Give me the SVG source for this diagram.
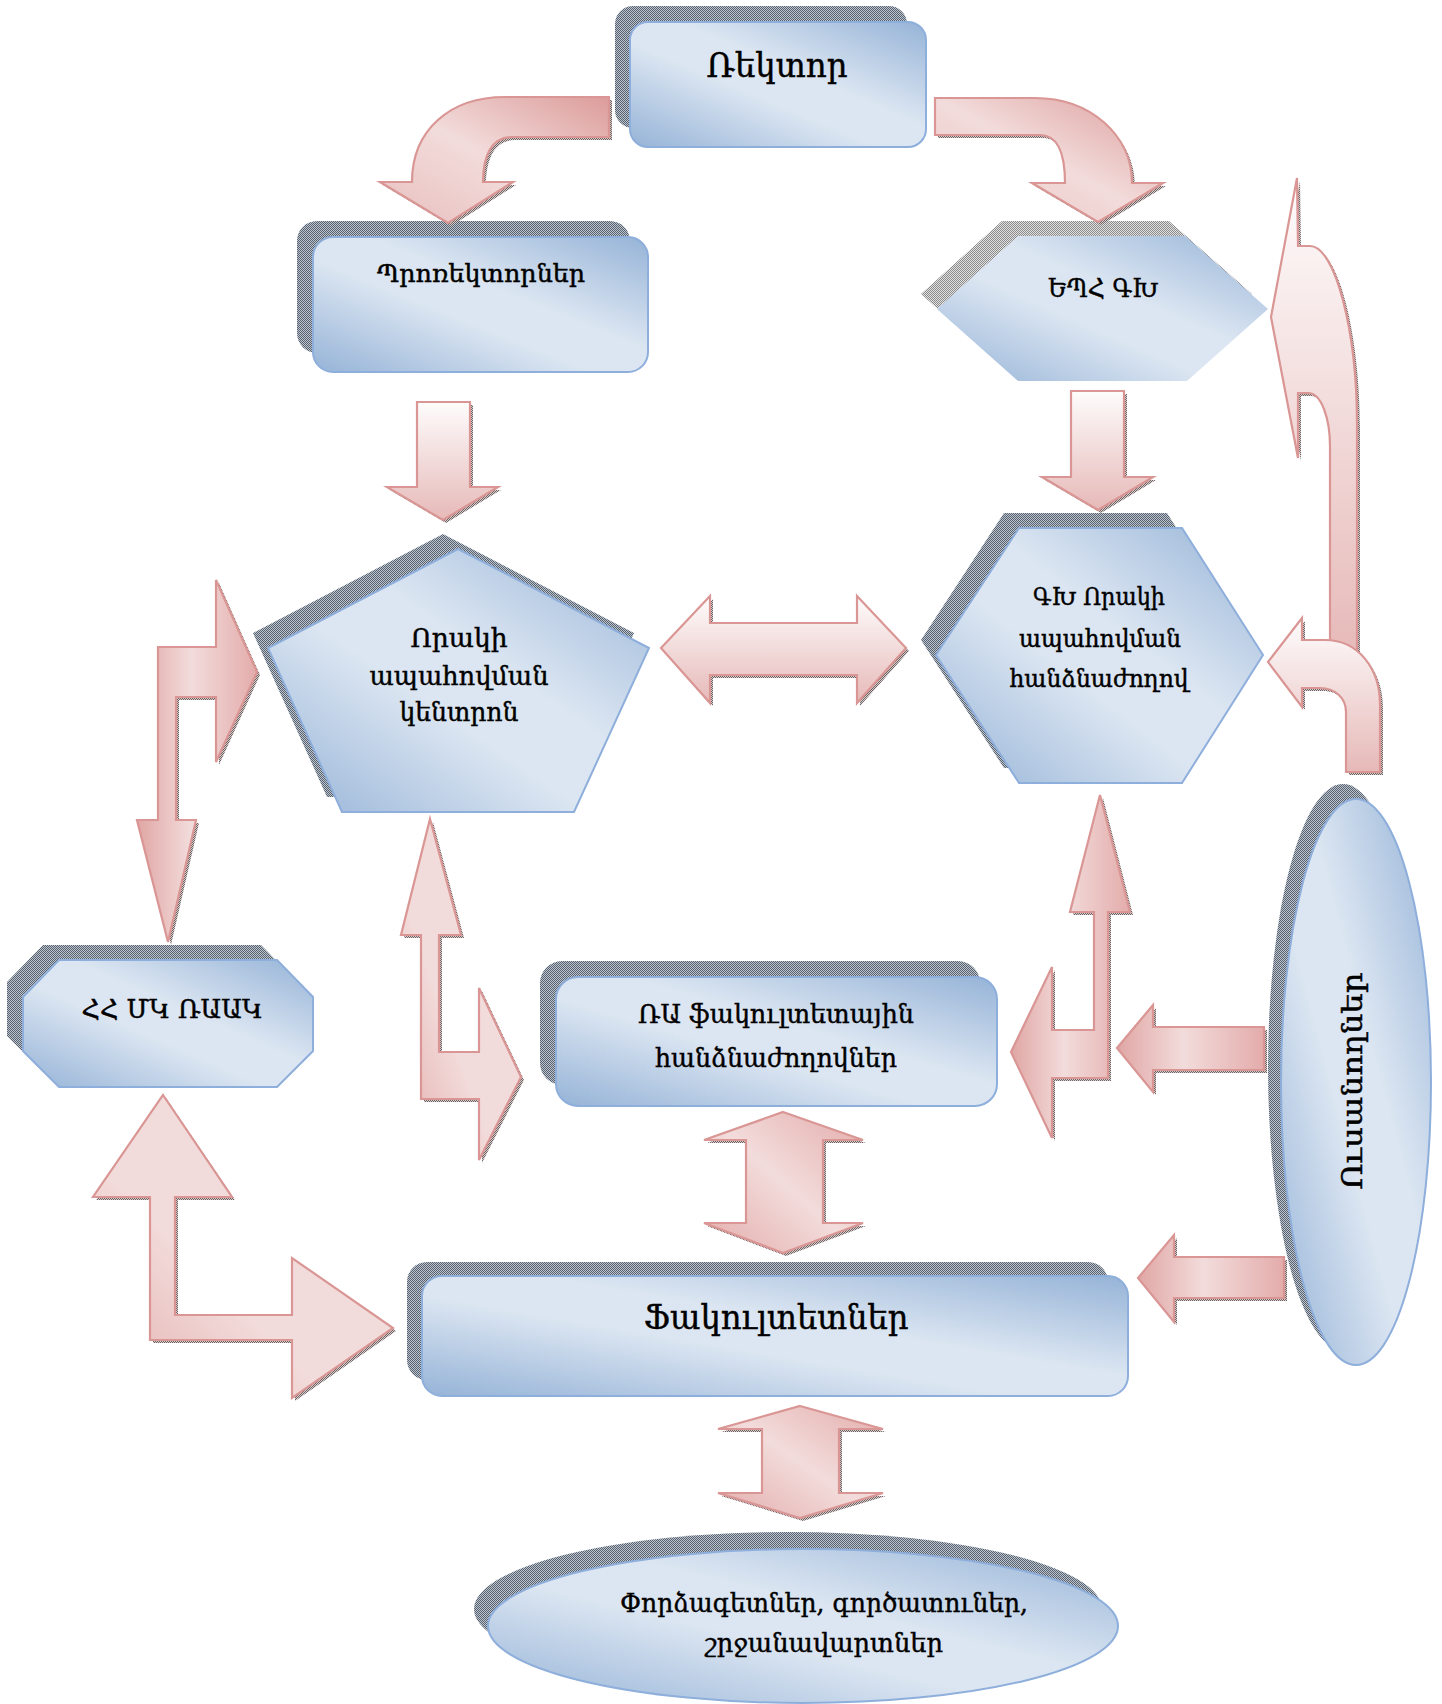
<svg xmlns="http://www.w3.org/2000/svg" xmlns:xlink="http://www.w3.org/1999/xlink" width="1442" height="1704" viewBox="0 0 1442 1704">
<defs>
<style>
.t{font-family:"DejaVu Serif","Liberation Serif",serif;fill:#000;stroke:#000;stroke-width:0.45;text-anchor:middle}
.node{fill:url(#gBlue);stroke:#8eaedb;stroke-width:2}
.shB{fill:url(#dotB)}
.shG{fill:url(#dotG)}
.ash{fill:url(#dotR)}
.arr{stroke:#d99694;stroke-width:2.2;stroke-linejoin:miter}
</style>
<pattern id="dotB" width="2" height="2" patternUnits="userSpaceOnUse"><rect width="2" height="2" fill="#bcc4cf"/><rect width="1" height="1" fill="#58626f"/><rect x="1" y="1" width="1" height="1" fill="#58626f"/></pattern>
<pattern id="dotG" width="2" height="2" patternUnits="userSpaceOnUse"><rect width="2" height="2" fill="#e2e2e2"/><rect width="1" height="1" fill="#8a8a8a"/><rect x="1" y="1" width="1" height="1" fill="#8a8a8a"/></pattern>
<pattern id="dotR" width="2" height="2" patternUnits="userSpaceOnUse"><rect width="2" height="2" fill="#d6cccc"/><rect width="1" height="1" fill="#6e6262"/><rect x="1" y="1" width="1" height="1" fill="#6e6262"/></pattern>
<linearGradient id="gBlue" x1="0" y1="1" x2="1" y2="0"><stop offset="0" stop-color="#95b3d7"/><stop offset="0.42" stop-color="#dce6f2"/><stop offset="0.58" stop-color="#dce6f2"/><stop offset="1" stop-color="#95b3d7"/></linearGradient>
<linearGradient id="gPV" x1="0" y1="0" x2="0" y2="1"><stop offset="0" stop-color="#fefcfc"/><stop offset="1" stop-color="#e6b9b8"/></linearGradient>
<linearGradient id="gPD" x1="1" y1="0" x2="0" y2="1"><stop offset="0" stop-color="#e3acab"/><stop offset="0.5" stop-color="#f2dcdb"/><stop offset="1" stop-color="#e3acab"/></linearGradient>
<linearGradient id="gTR" x1="1" y1="0" x2="0" y2="1"><stop offset="0" stop-color="#dc9c9a"/><stop offset="0.5" stop-color="#f2dcdb"/><stop offset="1" stop-color="#e8bfbe"/></linearGradient>
<linearGradient id="gH" x1="0" y1="0" x2="1" y2="0"><stop offset="0" stop-color="#e0a6a4"/><stop offset="0.45" stop-color="#f2dcdb"/><stop offset="1" stop-color="#e3acab"/></linearGradient>
<linearGradient id="gBL" x1="0" y1="1" x2="1" y2="0"><stop offset="0" stop-color="#e3acab"/><stop offset="0.4" stop-color="#f2dcdb"/><stop offset="1" stop-color="#f2dcdb"/></linearGradient>
<path id="a1" d="M609,97 L505,97 C450,97 412,130 412,182 L380,182 L448,223 L513,182 L483,182 C483,155 492,137 512,137 L609,137 Z"/>
<path id="a2" d="M935,98 L1035,98 C1090,98 1132,135 1132,183 L1163,183 L1098,222 L1032,183 L1065,183 C1065,155 1058,135 1040,135 L935,135 Z"/>
<path id="a3" d="M417,402 L470,402 L470,487 L498,487 L443,520 L387,487 L417,487 Z"/>
<path id="a4" d="M1071,391 L1124,391 L1124,477 L1153,477 L1098,510 L1042,477 L1071,477 Z"/>
<path id="a5" d="M661,648 L710,596 L710,623 L857,623 L857,596 L906,648 L857,703 L857,675 L710,675 L710,703 Z"/>
<path id="a6" d="M257,672 L216,762 L216,697 L176,697 L176,820 L196,820 L168,942 L137,820 L158,820 L158,647 L216,647 L216,580 Z"/>
<path id="a7" d="M430,819 L461,935 L439,935 L439,1052 L479,1052 L479,988 L521,1077 L479,1160 L479,1099 L421,1099 L421,935 L401,935 Z"/>
<path id="a8" d="M1100,795 L1130,912 L1108,912 L1108,1078 L1052,1078 L1052,1138 L1011,1052 L1052,967 L1052,1030 L1094,1030 L1094,912 L1070,912 Z"/>
<path id="a9" d="M1117,1048 L1153,1005 L1153,1027 L1264,1027 L1264,1070 L1153,1070 L1153,1092 Z"/>
<path id="a10" d="M1138,1278 L1174,1235 L1174,1257 L1284,1257 L1284,1298 L1174,1298 L1174,1322 Z"/>
<path id="a11" d="M783,1112 L863,1140 L823,1140 L823,1223 L863,1223 L783,1253 L704,1223 L746,1223 L746,1140 L704,1140 Z"/>
<path id="a12" d="M800,1406 L883,1429 L839,1429 L839,1493 L883,1493 L800,1518 L718,1493 L762,1493 L762,1429 L718,1429 Z"/>
<path id="a13" d="M163,1095 L232,1197 L175,1197 L175,1315 L292,1315 L292,1258 L393,1328 L292,1398 L292,1340 L150,1340 L150,1197 L93,1197 Z"/>
<path id="a14" d="M1297,178 L1298,246 L1310,246 C1335,246 1357,330 1357,425 L1357,660 L1330,660 L1330,446 C1330,420 1322,393 1308,393 L1298,393 L1298,458 L1271,317 Z"/>
<path id="a15" d="M1268,662 L1302,618 L1302,640 L1325,640 C1358,640 1380,668 1380,705 L1380,772 L1346,772 L1346,712 C1346,698 1335,688 1320,688 L1302,688 L1302,707 Z"/>
</defs>
<rect width="1442" height="1704" fill="#fff"/>

<g id="n-rector">
<rect class="shB" x="615" y="6" width="292" height="122" rx="18"/>
<rect class="node" x="630" y="22" width="296" height="125" rx="18"/>
<text class="t" x="777" y="77" font-size="34" textLength="141" lengthAdjust="spacingAndGlyphs">Ռեկտոր</text>
</g>
<g id="n-prorectors">
<rect class="shB" x="297" y="221" width="333" height="132" rx="20"/>
<rect class="node" x="313" y="237" width="335" height="135" rx="20"/>
<text class="t" x="481" y="282" font-size="24" textLength="208" lengthAdjust="spacingAndGlyphs">Պրոռեկտորներ</text>
</g>
<g id="n-ysu-ac">
<polygon class="shG" points="921,294 1002,221 1169,221 1252,294 1171,366 1002,366"/>
<polygon points="937,309 1018,236 1185,236 1268,309 1187,381 1018,381" fill="url(#gBlue)"/>
<text class="t" x="1103" y="297" font-size="26" textLength="110" lengthAdjust="spacingAndGlyphs">ԵՊՀ ԳԽ</text>
</g>
<g id="n-qa-center">
<polygon class="shB" points="443,534 634,633 559,797 327,797 253,633"/>
<polygon class="node" points="458,549 649,648 574,812 342,812 268,648"/>
<text class="t" font-size="26"><tspan x="459" y="647" textLength="97" lengthAdjust="spacingAndGlyphs">Որակի</tspan><tspan x="459" y="685" textLength="179" lengthAdjust="spacingAndGlyphs">ապահովման</tspan><tspan x="459" y="721" textLength="119" lengthAdjust="spacingAndGlyphs">կենտրոն</tspan></text>
</g>
<g id="n-ac-qa">
<polygon class="shB" points="921,640 1004,513 1167,513 1248,640 1167,768 1004,768"/>
<polygon class="node" points="936,655 1019,528 1182,528 1263,655 1182,783 1019,783"/>
<text class="t" font-size="24"><tspan x="1099" y="605" textLength="132" lengthAdjust="spacingAndGlyphs">ԳԽ Որակի</tspan><tspan x="1100" y="647" textLength="162" lengthAdjust="spacingAndGlyphs">ապահովման</tspan><tspan x="1099" y="687" textLength="179" lengthAdjust="spacingAndGlyphs">հանձնաժողով</tspan></text>
</g>
<g id="n-ra-mes">
<polygon class="shB" points="43,945 261,945 297,982 297,1036 261,1072 43,1072 7,1036 7,982"/>
<polygon class="node" points="59,960 277,960 313,997 313,1051 277,1087 59,1087 23,1051 23,997"/>
<text class="t" x="172" y="1018" font-size="26" textLength="181" lengthAdjust="spacingAndGlyphs">ՀՀ ՄԿ ՌԱԱԿ</text>
</g>
<g id="n-fac-committees">
<rect class="shB" x="540" y="961" width="440" height="124" rx="22"/>
<rect class="node" x="556" y="977" width="441" height="129" rx="22"/>
<text class="t" font-size="26"><tspan x="776" y="1023" textLength="276" lengthAdjust="spacingAndGlyphs">ՌԱ ֆակուլտետային</tspan><tspan x="776" y="1067" textLength="242" lengthAdjust="spacingAndGlyphs">հանձնաժողովներ</tspan></text>
</g>
<g id="n-faculties">
<rect class="shB" x="407" y="1262" width="701" height="118" rx="20"/>
<rect class="node" x="422" y="1276" width="706" height="120" rx="20"/>
<text class="t" x="776" y="1329" font-size="34" textLength="265" lengthAdjust="spacingAndGlyphs">Ֆակուլտետներ</text>
</g>
<g id="n-students">
<ellipse class="shB" cx="1343" cy="1067" rx="75" ry="283"/>
<ellipse class="node" cx="1356" cy="1082" rx="75" ry="283"/>
<text class="t" transform="translate(1362,1081) rotate(-90)" x="0" y="0" font-size="28" textLength="217" lengthAdjust="spacingAndGlyphs">Ուսանողներ</text>
</g>
<g id="n-experts">
<ellipse class="shB" cx="788" cy="1609" rx="314" ry="77"/>
<ellipse class="node" cx="803" cy="1626" rx="315" ry="77"/>
<text class="t" font-size="26"><tspan x="824" y="1612" textLength="408" lengthAdjust="spacingAndGlyphs">Փորձագետներ, գործատուներ,</tspan><tspan x="824" y="1652" textLength="238" lengthAdjust="spacingAndGlyphs">շրջանավարտներ</tspan></text>
</g>

<g id="connectors">
<use href="#a1" class="ash" transform="translate(3,3)"/><use href="#a1" class="arr" fill="url(#gTR)"/>
<use href="#a2" class="ash" transform="translate(3,3)"/><use href="#a2" class="arr" fill="url(#gTR)"/>
<use href="#a3" class="ash" transform="translate(3,3)"/><use href="#a3" class="arr" fill="url(#gPV)"/>
<use href="#a4" class="ash" transform="translate(3,3)"/><use href="#a4" class="arr" fill="url(#gPV)"/>
<use href="#a5" class="ash" transform="translate(3,3)"/><use href="#a5" class="arr" fill="url(#gPV)"/>
<use href="#a6" class="ash" transform="translate(3,3)"/><use href="#a6" class="arr" fill="url(#gH)"/>
<use href="#a7" class="ash" transform="translate(3,3)"/><use href="#a7" class="arr" fill="url(#gBL)"/>
<use href="#a8" class="ash" transform="translate(3,3)"/><use href="#a8" class="arr" fill="url(#gH)"/>
<use href="#a9" class="ash" transform="translate(3,3)"/><use href="#a9" class="arr" fill="url(#gH)"/>
<use href="#a10" class="ash" transform="translate(3,3)"/><use href="#a10" class="arr" fill="url(#gH)"/>
<use href="#a11" class="ash" transform="translate(3,3)"/><use href="#a11" class="arr" fill="url(#gPD)"/>
<use href="#a12" class="ash" transform="translate(3,3)"/><use href="#a12" class="arr" fill="url(#gPD)"/>
<use href="#a13" class="ash" transform="translate(3,3)"/><use href="#a13" class="arr" fill="url(#gBL)"/>
<use href="#a14" class="ash" transform="translate(3,3)"/><use href="#a14" class="arr" fill="url(#gPV)"/>
<use href="#a15" class="ash" transform="translate(3,3)"/><use href="#a15" class="arr" fill="url(#gPV)"/>
</g>
</svg>
